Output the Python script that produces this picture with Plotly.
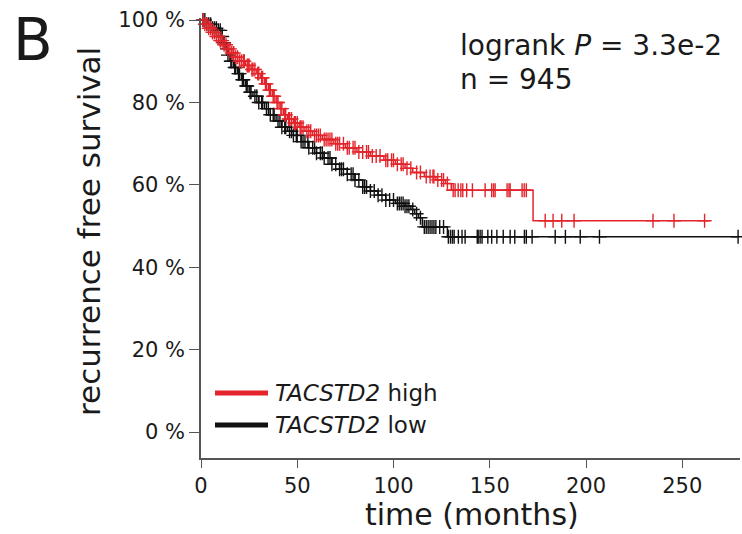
import plotly.graph_objects as go

# ---- data ----
high_times = [0, 2, 4, 6, 8, 10, 12, 14, 16, 18, 20, 23, 26, 29, 31, 33, 35, 37, 39, 41, 43, 45, 48,
              51, 54, 58, 63, 69, 75, 81, 88, 95, 101, 106, 110, 116, 122, 127, 130, 172.5, 264]
high_surv = [100, 99, 98, 97, 96, 95, 94, 93, 92, 91, 90, 89, 88, 87, 86, 84.5, 83, 81.5, 80, 78.5, 77, 76, 75,
             74, 73, 72, 71, 70, 69, 68, 67, 66, 65, 64, 63, 62, 61.2, 60.3, 58.7, 51.3, 51.3]
high_censor = [1, 2, 3, 4, 5, 6, 7, 8, 9, 10, 11, 12, 13, 14, 15, 16, 17, 18, 19, 20, 21, 22, 22.5, 24, 24.5,
               25, 26.5, 27, 28, 29.5, 30, 31.5, 32, 33.5, 34, 35.5, 36, 37.5, 38, 39.5, 40, 41.5, 42, 43.5,
               44, 45.5, 46, 47, 48.5, 49, 50, 51.5, 52, 53, 55, 56, 57, 59, 60, 61, 62, 64, 65, 66, 67, 68,
               70, 71, 72, 74, 76, 77, 79, 80, 82, 84, 86, 87, 89, 91, 93, 96, 97, 99, 100, 102, 104, 105,
               107, 109, 112, 114, 117, 119, 120.5, 121, 123, 125, 126, 128, 131, 132, 133.6, 135, 136, 138,
               141, 147.6, 151, 152, 152.8, 159, 160, 160.6, 166.8, 167.9, 169, 178.8, 182.9, 187.4, 193.8,
               234.8, 245.7, 261.6]

low_times = [0, 3, 6, 9, 11, 12, 13, 14, 15, 17, 19, 21, 23, 25, 27, 30, 33, 36, 39, 42, 45, 48, 52, 56, 60,
             64, 68, 72, 76, 80, 84, 88, 92, 96, 101, 106, 109, 111, 113, 115, 128, 279]
low_surv = [100, 99, 98, 97.5, 96, 94.5, 93, 91.5, 90, 88.5, 87, 85.5, 84, 82.5, 81.5, 80, 78.5, 77, 75.5, 74,
            73, 72, 70.5, 69, 67.7, 66.5, 65, 63.8, 62.6, 61.2, 59.5, 58.5, 57.5, 56.3, 55.5, 54.8, 54, 53, 52,
            49.8, 47.4, 47.4]
low_censor = [1, 2, 3, 4, 5, 6, 7, 8, 9, 10, 11, 12, 13.5, 14, 15.5, 16, 17.5, 18, 19.5, 20, 21.5, 22, 23.5,
              24, 25.5, 26, 28, 29, 30, 31.5, 32, 34, 35, 36, 37.5, 38, 40, 41, 42, 43.5, 44, 46, 47, 48,
              49.5, 50, 52, 53, 54, 55.5, 56, 58, 59, 60, 62, 63, 64, 66, 67, 68, 70, 72, 73, 74, 76, 78,
              79, 80, 82, 84, 85, 86, 88, 90, 92, 94, 96, 98, 100, 102, 103, 104, 105, 106, 107, 108, 110,
              112, 114, 116, 117, 118, 119, 120, 121, 122, 124, 126, 128.5, 129.6, 130.6, 131.5, 133.7,
              135.6, 137.2, 143.5, 144, 145, 146, 149, 151, 153.7, 157, 160.6, 163, 168, 169, 172, 184,
              189.3, 197, 207, 279]

x_ticks = [0, 50, 100, 150, 200, 250]
y_ticks = [0, 20, 40, 60, 80, 100]
y_tick_labels = ["0 %", "20 %", "40 %", "60 %", "80 %", "100 %"]

RED = "#e3242b"
BLACK = "#111111"
FONT = "DejaVu Sans"
TXT = "#1a1a1a"


def surv_at(t, times, survs):
    val = survs[0]
    for ti, si in zip(times, survs):
        if ti <= t:
            val = si
        else:
            break
    return val


fig = go.Figure()

for times, survs, cens, col in [(low_times, low_surv, low_censor, BLACK),
                                (high_times, high_surv, high_censor, RED)]:
    fig.add_trace(go.Scatter(x=times, y=survs, mode="lines", line=dict(color=col, width=1.5, shape="hv"),
                             showlegend=False, hoverinfo="skip"))
    fig.add_trace(go.Scatter(x=cens, y=[surv_at(t, times, survs) for t in cens], mode="markers",
                             marker=dict(symbol="cross-thin", size=10, line=dict(color=col, width=1.4)),
                             showlegend=False, hoverinfo="skip", cliponaxis=False))

# plot area in pixels: x 201..740, y 18..458
W, H = 742, 534
L, R, T, B = 201, 2, 18, 76
pw, ph = W - L - R, H - T - B


def px(x):
    return (x - L) / pw


def py(y):
    return (H - B - y) / ph


annotations = [
    dict(x=px(89), y=py(231), text="recurrence free survival", textangle=-90, showarrow=False,
         font=dict(family=FONT, size=31, color=TXT), xanchor="center", yanchor="middle"),
    dict(x=px(472), y=py(514), text="time (months)", showarrow=False,
         font=dict(family=FONT, size=30, color=TXT), xanchor="center", yanchor="middle"),
    dict(x=px(11), y=py(40), text="B", showarrow=False,
         font=dict(family=FONT, size=58, color=TXT), xanchor="left", yanchor="middle"),
    dict(x=px(458), y=py(46), text="logrank <i>P</i> = 3.3e-2", showarrow=False,
         font=dict(family=FONT, size=28, color=TXT), xanchor="left", yanchor="middle"),
    dict(x=px(458), y=py(80), text="n = 945", showarrow=False,
         font=dict(family=FONT, size=28, color=TXT), xanchor="left", yanchor="middle"),
    dict(x=px(273), y=py(393), text="<i>TACSTD2</i> high", showarrow=False,
         font=dict(family=FONT, size=23, color=TXT), xanchor="left", yanchor="middle"),
    dict(x=px(273), y=py(425), text="<i>TACSTD2</i> low", showarrow=False,
         font=dict(family=FONT, size=23, color=TXT), xanchor="left", yanchor="middle"),
]
for a in annotations:
    a["xref"] = "paper"
    a["yref"] = "paper"

shapes = [
    dict(type="line", xref="paper", yref="paper", x0=px(215), x1=px(268), y0=py(393), y1=py(393),
         line=dict(color=RED, width=5)),
    dict(type="line", xref="paper", yref="paper", x0=px(215), x1=px(268), y0=py(425), y1=py(425),
         line=dict(color=BLACK, width=5)),
]

fig.update_layout(
    width=W, height=H,
    margin=dict(l=L, r=R, t=T, b=B),
    paper_bgcolor="white", plot_bgcolor="white",
    showlegend=False,
    annotations=annotations,
    shapes=shapes,
    xaxis=dict(range=[0, 280], tickvals=x_ticks, ticks="outside", ticklen=8, tickwidth=1.2,
               tickcolor="#555", showline=True, linecolor="#555", linewidth=1.5, showgrid=False,
               zeroline=False, automargin=False, tickfont=dict(family=FONT, size=21, color=TXT)),
    yaxis=dict(range=[-6.3, 100.5], tickvals=y_ticks, ticktext=y_tick_labels, ticks="outside", ticklen=10,
               tickwidth=1.2, tickcolor="#555", showline=True, linecolor="#555", linewidth=1.5,
               showgrid=False, zeroline=False, automargin=False,
               tickfont=dict(family=FONT, size=21, color=TXT)),
)

fig.write_html("out.html", config={"displayModeBar": False},
               post_script="document.body.style.margin='0';document.body.style.overflow='hidden';")
